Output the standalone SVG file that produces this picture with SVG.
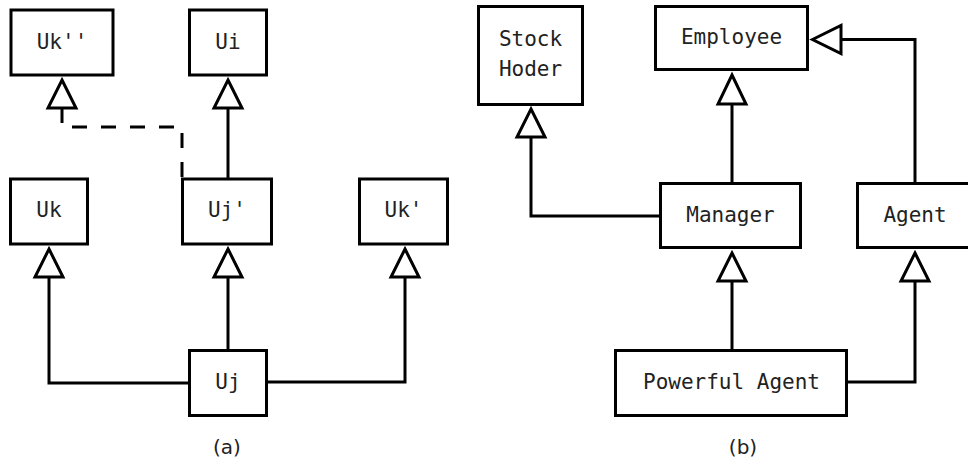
<svg xmlns="http://www.w3.org/2000/svg" width="968" height="464" viewBox="0 0 968 464">
<style>
.box{fill:#fff;stroke:#000;stroke-width:3}
.lbl{font-family:"DejaVu Sans Mono",monospace;font-size:21px;text-anchor:middle;fill:#222}
.cap{font-family:"DejaVu Sans",sans-serif;font-size:20px;text-anchor:middle;fill:#222}
.ln{fill:none;stroke:#000;stroke-width:3}
.dash{stroke-dasharray:15,14}
.tri{fill:#fff;stroke:#000;stroke-width:3}
</style>
<rect width="968" height="464" fill="#fff"/>
<g id="connectors">
  <path class="ln dash" d="M62,108 V127 H182 V179"/>
  <path class="ln" d="M228,105 V179"/>
  <path class="ln" d="M228,350.5 V277"/>
  <path class="ln" d="M189.5,383 H49 V277"/>
  <path class="ln" d="M266.5,382 H405 V277"/>
  <path class="ln" d="M660.5,216 H531 V137"/>
  <path class="ln" d="M732,183.5 V104"/>
  <path class="ln" d="M732,350.5 V281"/>
  <path class="ln" d="M846.5,382 H915 V281"/>
  <path class="ln" d="M841,39.5 H915 V183.5"/>
  <polygon class="tri" points="62,80 76,108 48,108"/>
  <polygon class="tri" points="228,80 242,108 214,108"/>
  <polygon class="tri" points="49,249 63,277 35,277"/>
  <polygon class="tri" points="228,249 242,277 214,277"/>
  <polygon class="tri" points="405,249 419,277 391,277"/>
  <polygon class="tri" points="531,109 545,137 517,137"/>
  <polygon class="tri" points="732,75 746,104 718,104"/>
  <polygon class="tri" points="732,253 746,281 718,281"/>
  <polygon class="tri" points="915,253 929,281 901,281"/>
  <polygon class="tri" points="812.5,39.5 841,25.5 841,53.5"/>
</g>
<g id="Ukpp"><rect class="box" x="11" y="10" width="102" height="65"/><text class="lbl" x="62" y="48.5">Uk''</text></g>
<g id="Ui"><rect class="box" x="189.5" y="10" width="77" height="65"/><text class="lbl" x="228" y="48.5">Ui</text></g>
<g id="Uk"><rect class="box" x="10.5" y="179" width="77" height="65"/><text class="lbl" x="49" y="217">Uk</text></g>
<g id="Ujp"><rect class="box" x="182.5" y="179" width="89" height="65"/><text class="lbl" x="227" y="217">Uj'</text></g>
<g id="Ukp"><rect class="box" x="359.5" y="179" width="88" height="65"/><text class="lbl" x="403.5" y="217">Uk'</text></g>
<g id="Uj"><rect class="box" x="189.5" y="350.5" width="77" height="65"/><text class="lbl" x="228" y="389">Uj</text></g>
<g id="StockHoder"><rect class="box" x="478.5" y="6.5" width="104" height="98"/><text class="lbl" x="530.5" y="46">Stock</text><text class="lbl" x="530.5" y="76">Hoder</text></g>
<g id="Employee"><rect class="box" x="655.5" y="6.5" width="152" height="63"/><text class="lbl" x="731.5" y="44">Employee</text></g>
<g id="Manager"><rect class="box" x="660.5" y="183.5" width="140" height="64"/><text class="lbl" x="730.5" y="221.5">Manager</text></g>
<g id="Agent"><rect class="box" x="857.5" y="183.5" width="120" height="64"/><text class="lbl" x="915" y="221.5">Agent</text></g>
<g id="PowerfulAgent"><rect class="box" x="615.5" y="350.5" width="231" height="65"/><text class="lbl" x="731.5" y="389">Powerful Agent</text></g>
<text class="cap" x="227" y="454">(a)</text>
<text class="cap" x="743" y="454">(b)</text>
</svg>
